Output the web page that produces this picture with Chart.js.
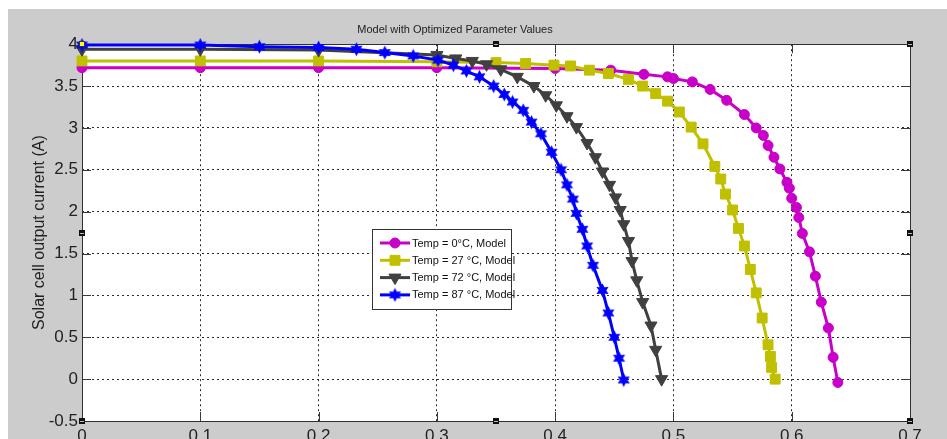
<!DOCTYPE html>
<html>
<head>
<meta charset="utf-8">
<script src="https://cdn.jsdelivr.net/npm/chart.js@4.4.1/dist/chart.umd.min.js"></script>
<style>
  html, body { margin: 0; padding: 0; background: #fff; }
  #wrap { width: 947px; height: 439px; }
</style>
</head>
<body>
<div id="wrap"><canvas id="ivChart" width="947" height="439"></canvas></div>
<script>
// I-V curves: voltage (V) and current (A) for each temperature
const volt0 = [0, 0.1, 0.2, 0.3, 0.4, 0.447, 0.475, 0.495, 0.5, 0.516, 0.531, 0.545, 0.560, 0.570, 0.576, 0.580, 0.585, 0.590, 0.596, 0.598, 0.600, 0.604, 0.606, 0.609, 0.615, 0.620, 0.625, 0.631, 0.635, 0.639];
const curr0 = [3.72, 3.72, 3.72, 3.72, 3.71, 3.69, 3.64, 3.61, 3.59, 3.55, 3.46, 3.33, 3.16, 3.00, 2.91, 2.79, 2.65, 2.51, 2.35, 2.28, 2.16, 2.05, 1.93, 1.74, 1.52, 1.23, 0.92, 0.61, 0.26, -0.04];

const volt27 = [0, 0.1, 0.2, 0.3, 0.35, 0.375, 0.399, 0.413, 0.429, 0.445, 0.462, 0.474, 0.485, 0.495, 0.505, 0.515, 0.525, 0.535, 0.540, 0.544, 0.550, 0.555, 0.560, 0.565, 0.570, 0.575, 0.580, 0.582, 0.583, 0.586];
const curr27 = [3.80, 3.80, 3.80, 3.79, 3.78, 3.77, 3.75, 3.74, 3.69, 3.65, 3.58, 3.50, 3.41, 3.32, 3.19, 3.01, 2.81, 2.54, 2.39, 2.21, 2.02, 1.80, 1.59, 1.31, 1.03, 0.73, 0.41, 0.27, 0.14, 0.00];

const volt72 = [0, 0.1, 0.2, 0.3, 0.316, 0.330, 0.342, 0.354, 0.368, 0.382, 0.392, 0.401, 0.410, 0.418, 0.427, 0.434, 0.440, 0.446, 0.451, 0.455, 0.458, 0.462, 0.465, 0.469, 0.474, 0.481, 0.485, 0.490];
const curr72 = [3.94, 3.94, 3.93, 3.87, 3.83, 3.80, 3.76, 3.70, 3.61, 3.50, 3.39, 3.27, 3.14, 3.01, 2.82, 2.65, 2.48, 2.32, 2.17, 2.02, 1.85, 1.65, 1.41, 1.18, 0.92, 0.64, 0.35, 0.00];

const volt87 = [0, 0.1, 0.15, 0.2, 0.232, 0.256, 0.280, 0.301, 0.314, 0.325, 0.336, 0.348, 0.357, 0.364, 0.373, 0.380, 0.388, 0.397, 0.405, 0.410, 0.415, 0.418, 0.423, 0.427, 0.432, 0.440, 0.445, 0.450, 0.454, 0.458];
const curr87 = [3.99, 3.99, 3.97, 3.96, 3.94, 3.90, 3.86, 3.81, 3.75, 3.68, 3.61, 3.50, 3.40, 3.31, 3.21, 3.07, 2.93, 2.71, 2.50, 2.32, 2.15, 1.98, 1.79, 1.59, 1.36, 1.06, 0.79, 0.50, 0.25, -0.01];

const seriesLabels = ['Temp = 0°C, Model', 'Temp = 27 °C, Model', 'Temp = 72 °C, Model', 'Temp = 87 °C, Model'];
const xTicks = [0, 0.1, 0.2, 0.3, 0.4, 0.5, 0.6, 0.7];
const yTicks = [-0.5, 0, 0.5, 1, 1.5, 2, 2.5, 3, 3.5, 4];

const FONT = "'Liberation Sans', Arial, Helvetica, sans-serif";

// filled six-pointed star used as the marker of the hottest curve
function makeHexagram(color) {
    const c = document.createElement('canvas');
    c.width = 15;
    c.height = 15;
    const g = c.getContext('2d');
    g.fillStyle = color;
    g.beginPath();
    for (let k = 0; k < 12; k++) {
        const r = k % 2 === 0 ? 7 : 3.8;
        const a = -Math.PI / 2 + k * Math.PI / 6;
        g.lineTo(7.5 + r * Math.cos(a), 7.5 + r * Math.sin(a));
    }
    g.closePath();
    g.fill();
    return c;
}

function toPoints(xs, ys) {
    return xs.map(function(v, k) { return { x: v, y: ys[k] }; });
}

const styles = [
    { color: '#c800c8', pointStyle: 'circle', radius: 5, rotation: 0 },
    { color: '#c0c000', pointStyle: 'rect', radius: 7, rotation: 0 },
    { color: '#404040', pointStyle: 'triangle', radius: 7, rotation: 180 },
    { color: '#0000ff', pointStyle: makeHexagram('#0000ff'), radius: 7, rotation: 0 }
];
const series = [toPoints(volt0, curr0), toPoints(volt27, curr27), toPoints(volt72, curr72), toPoints(volt87, curr87)];

// axes box, inward ticks, legend and the figure background
const figurePlugin = {
    id: 'figureFrame',
    beforeDraw: function(chart) {
        const ctx = chart.ctx;
        const a = chart.chartArea;
        ctx.save();
        ctx.fillStyle = '#ffffff';
        ctx.fillRect(0, 0, chart.width, chart.height);
        ctx.fillStyle = '#cccccc';
        ctx.fillRect(8, 9, chart.width - 8, chart.height - 9);
        ctx.fillStyle = '#ffffff';
        ctx.fillRect(a.left, a.top, a.right - a.left, a.bottom - a.top);
        ctx.restore();
    },
    beforeDatasetsDraw: function(chart) {
        const ctx = chart.ctx;
        const a = chart.chartArea;
        const xs = chart.scales.x;
        const ys = chart.scales.y;
        const len = 9;
        ctx.save();
        ctx.strokeStyle = '#3a3a3a';
        ctx.lineWidth = 1;
        ctx.beginPath();
        xTicks.forEach(function(v) {
            const px = Math.round(xs.getPixelForValue(v)) + 0.5;
            ctx.moveTo(px, a.bottom);
            ctx.lineTo(px, a.bottom - len);
            ctx.moveTo(px, a.top);
            ctx.lineTo(px, a.top + len);
        });
        yTicks.forEach(function(v) {
            const py = Math.round(ys.getPixelForValue(v)) + 0.5;
            ctx.moveTo(a.left, py);
            ctx.lineTo(a.left + len, py);
            ctx.moveTo(a.right, py);
            ctx.lineTo(a.right - len, py);
        });
        ctx.stroke();
        ctx.strokeStyle = '#303030';
        ctx.strokeRect(Math.round(a.left) + 0.5, Math.round(a.top) + 0.5,
            Math.round(a.right - a.left), Math.round(a.bottom - a.top));
        ctx.restore();
    },
    afterDraw: function(chart) {
        const ctx = chart.ctx;
        const a = chart.chartArea;
        ctx.save();

        // legend box
        const bx = 372.5, by = 229.5, bw = 139, bh = 80;
        ctx.fillStyle = '#ffffff';
        ctx.fillRect(bx, by, bw, bh);
        ctx.strokeStyle = '#333333';
        ctx.lineWidth = 1;
        ctx.strokeRect(bx, by, bw, bh);
        ctx.font = '11px ' + FONT;
        ctx.textBaseline = 'middle';
        ctx.textAlign = 'left';
        seriesLabels.forEach(function(label, k) {
            const st = styles[k];
            const y = 243 + k * 17.3;
            ctx.strokeStyle = st.color;
            ctx.fillStyle = st.color;
            ctx.lineWidth = 3;
            ctx.beginPath();
            ctx.moveTo(380, y);
            ctx.lineTo(410, y);
            ctx.stroke();
            ctx.lineWidth = 1;
            Chart.helpers.drawPoint(ctx, {
                pointStyle: st.pointStyle, radius: st.radius, rotation: st.rotation, borderWidth: 1
            }, 395, y);
            ctx.fillStyle = '#111111';
            ctx.fillText(label, 412, y + 0.5);
        });

        // selection handles on the axes frame
        const midX = (a.left + a.right) / 2;
        const midY = (a.top + a.bottom) / 2;
        const handles = [
            [a.left, a.top], [midX, a.top], [a.right, a.top],
            [a.left, midY], [a.right, midY],
            [a.left, a.bottom], [midX, a.bottom], [a.right, a.bottom]
        ];
        handles.forEach(function(h, k) {
            const hx = Math.round(h[0]) - 3;
            const hy = Math.round(h[1]) - 3;
            ctx.fillStyle = k === 0 ? '#ffff00' : '#111111';
            ctx.fillRect(hx, hy, 6, 6);
            if (k === 0) {
                ctx.strokeStyle = '#333333';
                ctx.lineWidth = 1;
                ctx.strokeRect(hx + 0.5, hy + 0.5, 5, 5);
            } else {
                ctx.fillStyle = '#bbbbbb';
                ctx.fillRect(hx + 1, hy + 3, 4, 1);
            }
        });
        ctx.restore();
    }
};

const ctx = document.getElementById('ivChart');
new Chart(ctx, {
    type: 'line',
    data: {
        datasets: series.map(function(pts, k) {
            const st = styles[k];
            return {
                label: seriesLabels[k],
                data: pts,
                borderColor: st.color,
                backgroundColor: st.color,
                borderWidth: 3,
                pointStyle: st.pointStyle,
                pointRadius: st.radius,
                pointRotation: st.rotation,
                pointBackgroundColor: st.color,
                pointBorderColor: st.color,
                pointBorderWidth: 1,
                pointHoverRadius: st.radius,
                tension: 0,
                fill: false,
                clip: false,
                order: 4 - k
            };
        })
    },
    options: {
        responsive: false,
        devicePixelRatio: 1,
        animation: false,
        events: [],
        layout: { padding: { left: 0, right: 37, top: 0, bottom: 0 } },
        scales: {
            x: {
                type: 'linear',
                min: 0,
                max: 0.7,
                afterBuildTicks: function(scale) {
                    scale.ticks = xTicks.map(function(v) { return { value: v }; });
                },
                afterFit: function(scale) { scale.height = 18; },
                ticks: {
                    autoSkip: false,
                    maxRotation: 0,
                    padding: 5,
                    color: '#222222',
                    font: { family: FONT, size: 17 },
                    callback: function(v) { return String(+Number(v).toFixed(1)); }
                },
                grid: { color: '#2a2a2a', lineWidth: 1, drawTicks: false },
                border: { display: false, dash: [2, 3] }
            },
            y: {
                type: 'linear',
                min: -0.5,
                max: 4,
                afterBuildTicks: function(scale) {
                    scale.ticks = yTicks.map(function(v) { return { value: v }; });
                },
                afterFit: function(scale) { scale.width = 82; },
                ticks: {
                    autoSkip: false,
                    padding: 4,
                    color: '#222222',
                    font: { family: FONT, size: 17 },
                    callback: function(v) { return String(+Number(v).toFixed(1)); }
                },
                grid: { color: '#2a2a2a', lineWidth: 1, drawTicks: false },
                border: { display: false, dash: [2, 3] },
                title: {
                    display: true,
                    text: 'Solar cell output current (A)',
                    color: '#222222',
                    font: { family: FONT, size: 16 },
                    padding: { top: 30, bottom: 0 }
                }
            }
        },
        plugins: {
            legend: { display: false },
            tooltip: { enabled: false },
            title: {
                display: true,
                text: 'Model with Optimized Parameter Values',
                color: '#222222',
                font: { family: FONT, size: 11, weight: 'normal' },
                padding: { top: 23, bottom: 8 }
            }
        }
    },
    plugins: [figurePlugin]
});
</script>
</body>
</html>
